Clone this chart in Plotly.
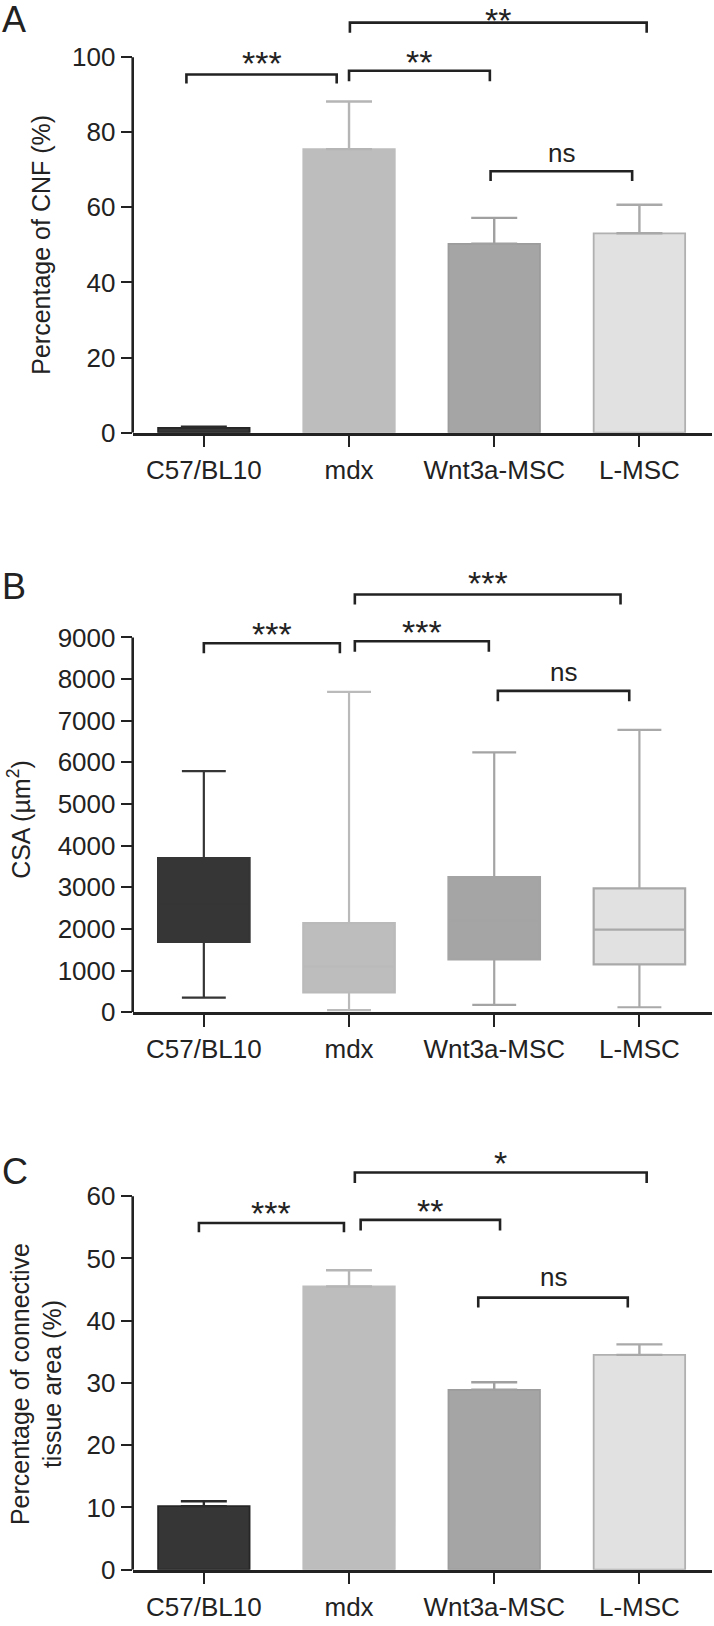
import plotly.graph_objects as go

groups = ["C57/BL10", "mdx", "Wnt3a-MSC", "L-MSC"]

# A: percentage of CNF, mean and SEM
cnf_mean = [1.3, 75.5, 50.3, 53.1]
cnf_sem = [0.3, 12.7, 6.9, 7.6]

# B: fibre CSA (um^2), box and whiskers (min to max)
csa_min = [350, 50, 180, 120]
csa_q1 = [1690, 480, 1270, 1150]
csa_median = [2600, 1100, 2200, 1985]
csa_q3 = [3700, 2140, 3245, 2975]
csa_max = [5790, 7690, 6240, 6780]

# C: percentage of connective tissue area, mean and SEM
ct_mean = [10.2, 45.5, 28.9, 34.5]
ct_sem = [0.8, 2.6, 1.2, 1.7]

# significance comparisons: (group a, group b, label)
sig_a = [(0, 1, "***"), (1, 2, "**"), (1, 3, "**"), (2, 3, "ns")]
sig_b = [(0, 1, "***"), (1, 2, "***"), (1, 3, "***"), (2, 3, "ns")]
sig_c = [(0, 1, "***"), (1, 2, "**"), (1, 3, "*"), (2, 3, "ns")]

# ---- styling ----
W, H = 714, 1626
FONT = "Liberation Sans, Arial, sans-serif"
INK = "#222222"
fills = ["#363636", "#bdbdbd", "#a5a5a5", "#e1e1e1"]
edges = ["#262626", "#bdbdbd", "#9c9c9c", "#b0b0b0"]
whisk = ["#2a2a2a", "#b5b5b5", "#a0a0a0", "#a9a9a9"]
box_line = ["#353535", "#bababa", "#a4a4a4", "#a9a9a9"]

X0_PX, X1_PX = 132.7, 712
XR = [-0.49, 3.5]
BAR_W = 0.63

# (zero line px, top of plot px, px per unit)
panels = {
    "A": (436.7, 0, 3.79),
    "B": (1021.7, 570, 0.04204),
    "C": (1584.3, 1150, 6.283),
}

# bracket style per comparison:
# (dx left, dx right, line level, leg, text box centre px above line)
br_a = [(-0.12, -0.085, 95.4, 2.4, 12), (0.0, -0.03, 96.4, 2.8, 9),
        (0.006, 0.05, 109.2, 2.7, 9), (-0.025, -0.05, 69.6, 2.6, 19)]
br_b = [(0.0, -0.063, 8858, 240, 9.5), (0.04, -0.037, 8906, 250, 9.5),
        (0.04, -0.13, 10031, 240, 12), (0.025, -0.07, 7716, 250, 19)]
br_c = [(-0.034, -0.035, 55.7, 1.5, 10), (0.08, 0.04, 56.2, 1.7, 8.5),
        (0.04, 0.05, 63.8, 1.7, 9.5), (-0.11, -0.08, 43.7, 1.6, 21)]

fig = go.Figure()
xs = list(range(len(groups)))
axkeys = {"A": "", "B": "2", "C": "3"}


def add_bars(means, sems, ax, capw):
    for i, g in enumerate(groups):
        fig.add_trace(go.Bar(
            x=[xs[i]], y=[means[i]], width=BAR_W, name=g, showlegend=False,
            marker=dict(color=fills[i], line=dict(color=edges[i], width=1.8)),
            error_y=dict(type="data", symmetric=False, array=[sems[i]],
                         arrayminus=[0], color=whisk[i], thickness=2.4,
                         width=capw),
            xaxis="x" + ax, yaxis="y" + ax, hoverinfo="skip"))


def add_brackets(sig, style, panel):
    ax = axkeys[panel]
    z, top, ppu = panels[panel]
    for (a, b, lab), (dl, dr, lvl, leg, tpx) in zip(sig, style):
        xa, xb = xs[a] + dl, xs[b] + dr
        fig.add_trace(go.Scatter(
            x=[xa, xa, xb, xb], y=[lvl - leg, lvl, lvl, lvl - leg],
            mode="lines", line=dict(color=INK, width=2.6),
            showlegend=False, hoverinfo="skip",
            xaxis="x" + ax, yaxis="y" + ax))
        line_px = z - lvl * ppu
        size = 26 if lab == "ns" else 34
        # keep text box inside the page
        centre_px = max(line_px - tpx, 0.58 * size)
        fig.add_annotation(
            x=(xa + xb) / 2, y=(z - centre_px) / ppu, text=lab,
            showarrow=False, xref="x" + ax, yref="y" + ax, yanchor="middle",
            font=dict(size=size, color=INK, family=FONT))


add_bars(cnf_mean, cnf_sem, "", 23)
add_bars(ct_mean, ct_sem, "3", 23)

for i, g in enumerate(groups):
    fig.add_trace(go.Box(
        x=[xs[i]], q1=[csa_q1[i]], median=[csa_median[i]], q3=[csa_q3[i]],
        lowerfence=[csa_min[i]], upperfence=[csa_max[i]], name=g,
        width=BAR_W, whiskerwidth=0.48, fillcolor=fills[i],
        line=dict(color=box_line[i], width=2.2), boxpoints=False,
        showlegend=False, hoverinfo="skip", xaxis="x2", yaxis="y2"))

add_brackets(sig_a, br_a, "A")
add_brackets(sig_b, br_b, "B")
add_brackets(sig_c, br_c, "C")

tick_font = dict(size=26, color=INK, family=FONT)
ytick_sets = {
    "A": ([0, 20, 40, 60, 80, 100], 100),
    "B": (list(range(0, 9001, 1000)), 9000),
    "C": ([0, 10, 20, 30, 40, 50, 60], 60),
}
letter_y = {"A": 19.5, "B": 592, "C": 1182}

layout = {}
for name, (z, top, ppu) in panels.items():
    k = axkeys[name]
    layout["xaxis" + k] = dict(
        domain=[X0_PX / W, X1_PX / W], range=XR, tickvals=xs, ticktext=groups,
        ticks="outside", ticklen=12, tickwidth=2.4, tickcolor=INK,
        showline=True, linecolor=INK, linewidth=2.6, showgrid=False,
        zeroline=False, tickfont=tick_font, anchor="y" + k, fixedrange=True)
    tv, ymax = ytick_sets[name]
    layout["yaxis" + k] = dict(
        domain=[1 - z / H, 1 - top / H], range=[0, (z - top) / ppu],
        tickvals=tv, ticks="outside", ticklen=11, tickwidth=2.4,
        tickcolor=INK, showline=False, showgrid=False, zeroline=False,
        tickfont=tick_font, anchor="x" + k, fixedrange=True)
    # y axis line only spans the tick range
    fig.add_shape(type="line", xref="paper", yref="y" + k,
                  x0=X0_PX / W, x1=X0_PX / W, y0=0, y1=ymax,
                  line=dict(color=INK, width=2.6))
    # panel letter
    fig.add_annotation(x=0, y=1 - letter_y[name] / H, text=name,
                       xref="paper", yref="paper", showarrow=False,
                       xanchor="left", yanchor="middle",
                       font=dict(size=36, color=INK, family=FONT))

# axis titles
titles = [
    ("Percentage of CNF (%)", 41, 247),
    ("CSA (µm<sup>2</sup>)", 19.5, 827),
    ("Percentage of connective<br>tissue area (%)", 36, 1397),
]
for txt, px, py in titles:
    fig.add_annotation(x=px / W, y=1 - py / H, text=txt, textangle=-90,
                       xref="paper", yref="paper", showarrow=False,
                       xanchor="center", yanchor="middle",
                       font=dict(size=25, color=INK, family=FONT))

fig.update_layout(
    width=W, height=H, margin=dict(l=0, r=0, t=0, b=0),
    paper_bgcolor="white", plot_bgcolor="white",
    barmode="overlay", boxmode="overlay", showlegend=False,
    font=dict(family=FONT, color=INK), **layout)

fig.write_html("out.html", config={"displayModeBar": False},
               post_script="document.body.style.margin='0';")
